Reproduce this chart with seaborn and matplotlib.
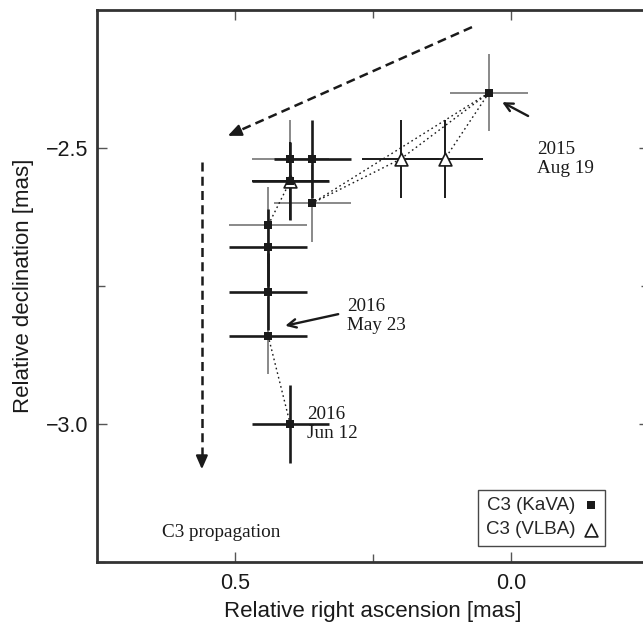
import matplotlib
matplotlib.use("Agg")
import matplotlib.pyplot as plt
import seaborn as sns
import pandas as pd

# ---------------- data ----------------
kava_ra = [0.04, 0.36, 0.40, 0.40, 0.36, 0.44, 0.44, 0.44, 0.44, 0.40]
kava_dec = [-2.40, -2.52, -2.52, -2.56, -2.60, -2.64, -2.68, -2.76, -2.84, -3.00]
kava_err_ra = [0.07, 0.07, 0.07, 0.07, 0.07, 0.07, 0.07, 0.07, 0.07, 0.07]
kava_err_dec = [0.07, 0.07, 0.07, 0.07, 0.07, 0.07, 0.07, 0.07, 0.07, 0.07]
kava_xbar_dark = [False, True, False, True, False, False, True, True, True, True]
kava_ybar_dark = [False, True, False, True, False, False, True, True, False, True]

vlba_ra = [0.20, 0.12, 0.40]
vlba_dec = [-2.52, -2.52, -2.56]
vlba_err_ra = [0.07, 0.07, 0.07]
vlba_err_dec = [0.07, 0.07, 0.07]

# dotted links between epochs: ("K"|"V", index) pairs
links = [(("K", 0), ("K", 4)), (("K", 0), ("V", 0)), (("K", 0), ("V", 1)),
         (("V", 0), ("K", 4)), (("K", 3), ("K", 5)), (("K", 8), ("K", 9))]

x_ticks = [0.5, 0.0]
y_ticks = [-2.5, -3.0]

kava_df = pd.DataFrame({"ra": kava_ra, "dec": kava_dec})
vlba_df = pd.DataFrame({"ra": vlba_ra, "dec": vlba_dec})


def pt(ref):
    arr, i = ref
    return (kava_ra[i], kava_dec[i]) if arr == "K" else (vlba_ra[i], vlba_dec[i])


# ---------------- figure ----------------
sns.set_style("ticks")
plt.rcParams["font.family"] = ["Liberation Sans", "DejaVu Sans"]

W, H = 643, 623
fig = plt.figure(figsize=(W / 100, H / 100), dpi=100)
ax = fig.add_axes([97 / W, 61 / H, 552 / W, 552 / H])

DARK = "#1a1a1a"
GREY = "#808080"

# error bars
for i in range(len(kava_ra)):
    ax.errorbar(kava_ra[i], kava_dec[i], xerr=kava_err_ra[i], fmt="none",
                ecolor=DARK if kava_xbar_dark[i] else GREY,
                elinewidth=1.9 if kava_xbar_dark[i] else 1.3, capsize=0,
                zorder=3 if kava_xbar_dark[i] else 2)
    ax.errorbar(kava_ra[i], kava_dec[i], yerr=kava_err_dec[i], fmt="none",
                ecolor=DARK if kava_ybar_dark[i] else GREY,
                elinewidth=1.9 if kava_ybar_dark[i] else 1.3, capsize=0,
                zorder=3 if kava_ybar_dark[i] else 2)
for i in range(len(vlba_ra)):
    ax.errorbar(vlba_ra[i], vlba_dec[i], xerr=vlba_err_ra[i], yerr=vlba_err_dec[i],
                fmt="none", ecolor=DARK, elinewidth=1.4, capsize=0, zorder=2)

# dotted links
for a, b in links:
    (xa, ya), (xb, yb) = pt(a), pt(b)
    sns.lineplot(x=[xa, xb], y=[ya, yb], ax=ax, color=DARK, lw=1.0,
                 linestyle=(0, (1.2, 2.2)), sort=False, zorder=4)

# markers
sns.scatterplot(data=vlba_df, x="ra", y="dec", ax=ax, marker="^", s=85,
                facecolor="white", edgecolor=DARK, linewidth=1.2, zorder=5,
                label="C3 (VLBA)")
sns.scatterplot(data=kava_df, x="ra", y="dec", ax=ax, marker="s", s=32,
                color=DARK, edgecolor=DARK, linewidth=0, zorder=6,
                label="C3 (KaVA)")

# dashed propagation arrows
dash = (0, (3.6, 2.1))
ax.plot([0.0707, 0.500], [-2.281, -2.472], color=DARK, lw=1.8, linestyle=dash,
        clip_on=False)
ax.annotate("", xy=(0.513, -2.478), xytext=(0.490, -2.468),
            arrowprops=dict(arrowstyle="-|>,head_length=0.8,head_width=0.35",
                            color=DARK, lw=1.6, shrinkA=0, shrinkB=0))
ax.plot([0.560, 0.560], [-2.525, -3.065], color=DARK, lw=1.8, linestyle=dash)
ax.annotate("", xy=(0.560, -3.082), xytext=(0.560, -3.060),
            arrowprops=dict(arrowstyle="-|>,head_length=0.8,head_width=0.35",
                            color=DARK, lw=1.6, shrinkA=0, shrinkB=0))

# solid pointer arrows
ap_solid = dict(arrowstyle="->,head_length=0.6,head_width=0.3", color=DARK,
                lw=1.7, shrinkA=0, shrinkB=0)
ax.annotate("", xy=(0.016, -2.417), xytext=(-0.031, -2.442), arrowprops=ap_solid)
ax.annotate("", xy=(0.409, -2.822), xytext=(0.313, -2.801), arrowprops=ap_solid)

serif = ["Liberation Serif", "DejaVu Serif"]
tkw = dict(family=serif, fontsize=13.8, va="center", ha="left", color=DARK,
           linespacing=1.15)
ax.text(-0.0465, -2.520, "2015\nAug 19", **tkw)
ax.text(0.297, -2.804, "2016\nMay 23", **tkw)
ax.text(0.370, -3.000, "2016\nJun 12", **tkw)
ax.text(0.632, -3.196, "C3 propagation", **tkw)

# axes
ax.set_xlim(0.75, -0.25)
ax.set_ylim(-3.25, -2.25)
ax.set_xticks(x_ticks)
ax.set_yticks(y_ticks)
ax.set_xticklabels([f"{v:.1f}" for v in x_ticks])
ax.set_yticklabels([f"{v:.1f}".replace("-", "\u2212") for v in y_ticks])
ax.set_xticks([0.25, -0.25], minor=True)
ax.set_yticks([-2.75, -3.25], minor=True)
ax.tick_params(which="both", direction="in", top=True, right=True,
               color="#555555", width=1.0, labelsize=15.5, labelcolor=DARK)
ax.tick_params(axis="x", pad=8)
ax.tick_params(axis="y", pad=6)
ax.tick_params(which="major", length=7)
ax.tick_params(which="minor", length=6)
ax.set_xlabel("Relative right ascension [mas]", fontsize=16, color=DARK, labelpad=5)
ax.set_ylabel("Relative declination [mas]", fontsize=16, color=DARK, labelpad=9)
for sp in ax.spines.values():
    sp.set_color("#333333")
    sp.set_linewidth(2.0)

# legend (text then marker)
h, l = ax.get_legend_handles_labels()
order = [l.index("C3 (KaVA)"), l.index("C3 (VLBA)")]
leg = ax.legend([h[i] for i in order], [l[i] for i in order], markerfirst=False,
                loc="lower right", bbox_to_anchor=(605 / W, (H - 546) / H),
                bbox_transform=fig.transFigure, frameon=True, fancybox=False,
                edgecolor=DARK, fontsize=13.5, handlelength=0.7, handletextpad=0.5,
                borderpad=0.4, labelspacing=0.38, borderaxespad=0)
leg.get_frame().set_linewidth(1.0)

fig.savefig("out.png", dpi=100)
